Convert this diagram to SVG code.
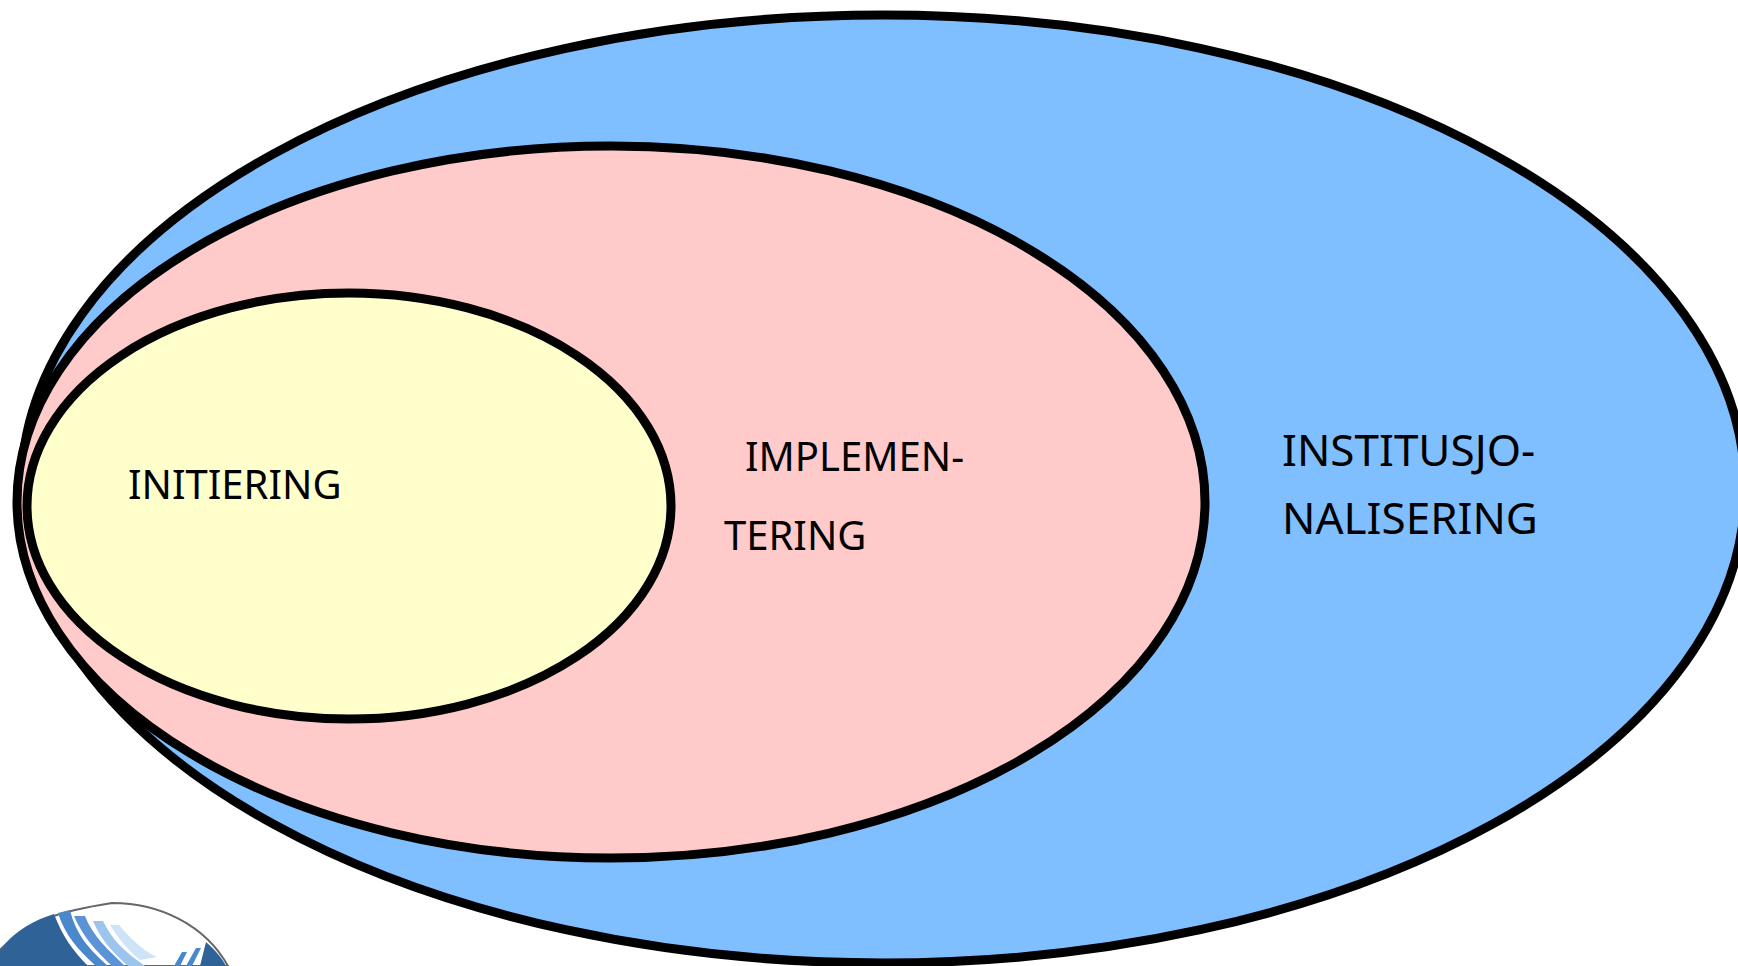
<svg xmlns="http://www.w3.org/2000/svg" width="1738" height="966" viewBox="0 0 1738 966">
<style>
.e{stroke:#000;stroke-width:9}
text{font-family:"Noto Sans","Open Sans",sans-serif;fill:#000}
</style>
<rect width="1738" height="966" fill="#fff"/>
<g id="logo">
<path d="M0 966V950C30 920 60 911 112 903C160 903 205 925 228 966Z" fill="#fff" stroke="#666" stroke-width="2"/>
<path d="M0 966V950C15 930 35 920 54 914C62 935 72 950 88 966Z" fill="#2f6398"/>
<path d="M58 913L70 910C76 935 90 950 108 966H96C78 950 65 935 58 913Z" fill="#4a88cc"/>
<path d="M74 916H85C92 935 108 950 125 966H112C95 950 82 935 74 916Z" fill="#5b93d6"/>
<path d="M93 921H103C112 940 125 952 145 966H128C112 952 100 938 93 921Z" fill="#9cc5ee"/>
<path d="M110 925H119C130 938 142 950 157 957L140 960C128 950 118 938 110 925Z" fill="#cfe3f7"/>
<path d="M182 952L187 952L180 966H174Z M196 948H201L192 966H186Z" fill="#4a88cc"/>
<path d="M206 942C215 950 222 958 226 966H200Z" fill="#2f6398"/>
</g>
<g id="institusjonalisering">
<ellipse class="e" cx="883" cy="489" rx="862" ry="474" fill="#80bfff"/>
<text x="1282" y="466" font-size="44">INSTITUSJO-</text>
<text x="1282" y="534" font-size="44">NALISERING</text>
</g>
<g id="implementering">
<ellipse class="e" cx="611" cy="502" rx="594" ry="356" fill="#ffcaca"/>
<text x="745" y="471" font-size="40">IMPLEMEN-</text>
<text x="724" y="550" font-size="40">TERING</text>
</g>
<g id="initiering">
<ellipse class="e" cx="349" cy="506" rx="322" ry="213" fill="#ffffcc"/>
<text x="128" y="499" font-size="40">INITIERING</text>
</g>
<g id="connectors"/>
</svg>
